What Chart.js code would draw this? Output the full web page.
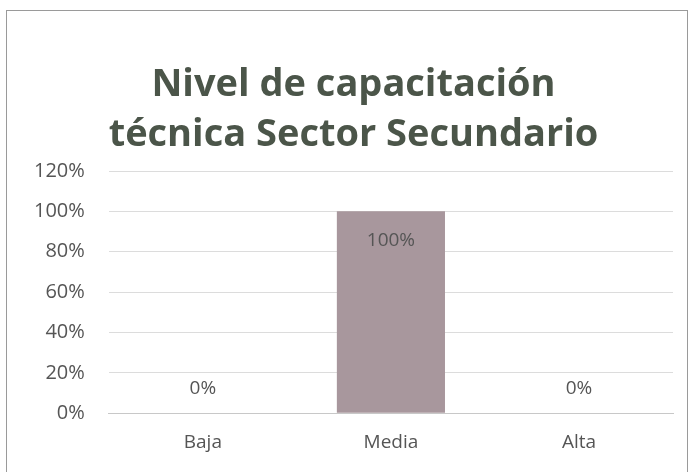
<!DOCTYPE html>
<html>
<head>
<meta charset="utf-8">
<script src="https://cdn.jsdelivr.net/npm/chart.js@4"></script>
<style>
  html, body { margin: 0; padding: 0; background: #fff; }
  #frame {
    position: absolute; left: 6px; top: 10px; width: 682px; height: 470px;
    border: 1px solid #9a9a9a; box-sizing: border-box; background: #fff;
  }
  #wrap { position: absolute; left: 0; top: 0; width: 691px; height: 472px; }
</style>
</head>
<body>
<div id="frame"></div>
<div id="wrap"><canvas id="chart" width="691" height="472"></canvas></div>
<script>
// datos
const categories = ['Baja', 'Media', 'Alta'];
const values = [0, 1, 0];
const yTicks = [0, 0.2, 0.4, 0.6, 0.8, 1.0, 1.2];
const titleLines = ['Nivel de capacitación', 'técnica Sector Secundario'];

const pct = v => Math.round(v * 100) + '%';

// título centrado un poco a la derecha, como en el original
const titleDraw = {
    id: 'titleDraw',
    afterDraw(chart) {
        const ctx = chart.ctx;
        ctx.save();
        ctx.font = 'bold 38px "Open Sans", sans-serif';
        ctx.fillStyle = '#4b5549';
        ctx.textAlign = 'center';
        ctx.textBaseline = 'middle';
        titleLines.forEach((line, i) => {
            ctx.fillText(line, chart.width / 2 + 8, 85 + i * 50);
        });
        ctx.restore();
    }
};

// etiquetas de datos tipo Excel
const dataLabels = {
    id: 'dataLabels',
    afterDatasetsDraw(chart) {
        const ctx = chart.ctx;
        const meta = chart.getDatasetMeta(0);
        ctx.save();
        ctx.font = '19px "Open Sans", sans-serif';
        ctx.fillStyle = '#555555';
        ctx.textAlign = 'center';
        ctx.textBaseline = 'middle';
        meta.data.forEach((bar, i) => {
            const v = values[i];
            const y = v > 0 ? bar.y + 29 : bar.y - 25;
            ctx.fillText(pct(v), bar.x, y);
        });
        ctx.restore();
    }
};

new Chart(document.getElementById('chart'), {
    type: 'bar',
    data: {
        labels: categories,
        datasets: [{
            data: values,
            backgroundColor: '#a8979d',
            barPercentage: 0.575,
            categoryPercentage: 1.0
        }]
    },
    options: {
        responsive: false,
        animation: false,
        layout: { padding: { left: 10, right: 18, top: 171, bottom: 0 } },
        plugins: {
            legend: { display: false },
            tooltip: { enabled: false },
            title: { display: false }
        },
        scales: {
            x: {
                grid: { display: false, drawTicks: false },
                border: { color: '#c8c8c8' },
                ticks: {
                    color: '#555555',
                    font: { family: '"Open Sans", sans-serif', size: 19 },
                    padding: 18
                }
            },
            y: {
                min: 0,
                max: 1.2,
                afterBuildTicks: axis => { axis.ticks = yTicks.map(v => ({ value: v })); },
                grid: { color: '#dcdcdc', drawTicks: false },
                border: { display: false },
                ticks: {
                    color: '#555555',
                    font: { family: '"Open Sans", sans-serif', size: 20 },
                    padding: 24,
                    callback: v => pct(v)
                }
            }
        }
    },
    plugins: [dataLabels, titleDraw]
});
</script>
</body>
</html>
